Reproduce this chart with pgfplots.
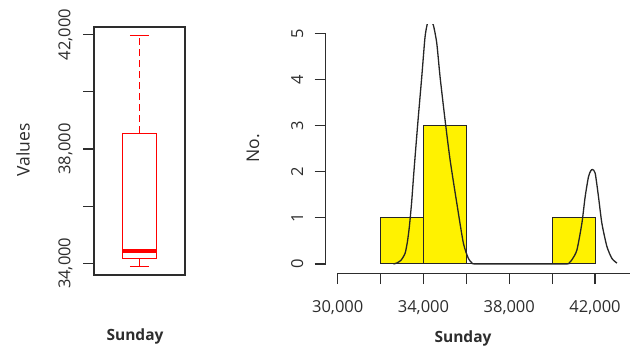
\documentclass[border=0pt]{standalone}
\usepackage{fontspec}
\setmainfont{Open Sans}
\usepackage{pgfplots}
\pgfplotsset{compat=1.18}
\definecolor{ink}{RGB}{45,45,45}
\begin{document}
\begin{tikzpicture}[font=\fontsize{16.5}{19}\selectfont]
\useasboundingbox (0pt,0pt) rectangle (630pt,352pt);
\pgfplotsset{
  every axis/.append style={
    scale only axis,
    /pgf/number format/assume math mode=true,
    scaled ticks=false,
    tick align=outside,
    major tick length=11pt,
    minor tick length=11pt,
    every tick/.style={ink, line width=1.1pt},
    tick label style={text=ink, font=\fontsize{16.5}{19}\selectfont},
  }
}
% ---------- left: boxplot ----------
\begin{axis}[
  at={(94pt,77pt)}, anchor=south west,
  width=91pt, height=248pt,
  xmin=0, xmax=1, ymin=33590, ymax=42270,
  xtick=\empty,
  ytick={34000,38000,42000},
  minor ytick={36000,40000},
  ytick pos=left,
  yticklabel style={rotate=90, anchor=south},
  yticklabel shift=7pt,
  axis line style={ink, line width=1.3pt},
]
\addplot[red, line width=1.2pt, mark=none] coordinates {(0.317,34162) (0.683,34162) (0.683,38555) (0.317,38555)} -- cycle;
\addplot[red, line width=3.2pt, mark=none] coordinates {(0.317,34431) (0.683,34431)};
\addplot[red, line width=1.2pt, dash pattern=on 7pt off 4pt, mark=none] coordinates {(0.5,38555) (0.5,41970)};
\addplot[red, line width=1.2pt, mark=none] coordinates {(0.5,34162) (0.5,33881)};
\addplot[red, line width=1.2pt, mark=none] coordinates {(0.394,41970) (0.606,41970)};
\addplot[red, line width=1.2pt, mark=none] coordinates {(0.394,33881) (0.606,33881)};
\end{axis}
\node[text=ink, rotate=90, font=\fontsize{17.5}{20}\selectfont] at (23pt,202pt) {Values};
\node[text=ink, font=\fontsize{15.5}{18}\selectfont\bfseries] at (135pt,16pt) {Sunday};
% ---------- right: histogram + density ----------
\begin{axis}[
  at={(325.7pt,78.8pt)}, anchor=south west,
  width=324.2pt, height=248.9pt,
  xmin=29440, xmax=44560, ymin=-0.2, ymax=5.2,
  axis line style={draw=none},
  xtick={30000,34000,38000,42000},
  minor xtick={32000,36000,40000,44000},
  ytick={0,1,2,3,4,5},
  xtick pos=bottom, ytick pos=left,
  yticklabel style={rotate=90, anchor=south},
  yticklabel shift=8pt,
  xticklabel shift=13pt,
  after end axis/.code={
    \draw[ink, line width=1.2pt] (axis cs:29440,0) -- (axis cs:29440,5);
    \draw[ink, line width=1.2pt] (axis cs:30000,-0.2) -- (axis cs:44000,-0.2);
  },
]
\addplot[ybar interval, fill=yellow, draw=black!85, line width=1pt, mark=none] coordinates {
  (32000,1) (34000,3) (36000,0) (38000,0) (40000,1) (42000,1)
};
\addplot[black!85, line width=1.3pt, smooth, tension=0.4, mark=none] coordinates {
  (32600,0) (32750,0.02) (32950,0.08) (33141,0.23) (33250,0.48) (33342,0.81)
  (33450,1.35) (33550,1.98) (33734,3.05) (33920,4.06) (34074,4.93) (34200,5.25)
  (34308,5.32) (34462,5.18) (34620,4.79) (34774,4.06) (35008,3.12) (35241,2.26)
  (35554,1.32) (35862,0.45) (36095,0.12) (36250,0.03) (36408,0) (38000,0)
  (40608,0) (40800,0.03) (40921,0.09) (41154,0.30) (41387,0.88) (41541,1.46)
  (41695,1.89) (41800,2.02) (41882,2.05) (42008,1.97) (42162,1.46) (42321,0.88)
  (42554,0.38) (42788,0.12) (43021,0.02)
};
\end{axis}
\node[text=ink, rotate=90, font=\fontsize{17.5}{20}\selectfont] at (253pt,204pt) {No.};
\node[text=ink, font=\fontsize{15.5}{18}\selectfont\bfseries] at (463pt,14pt) {Sunday};
\end{tikzpicture}
\end{document}
